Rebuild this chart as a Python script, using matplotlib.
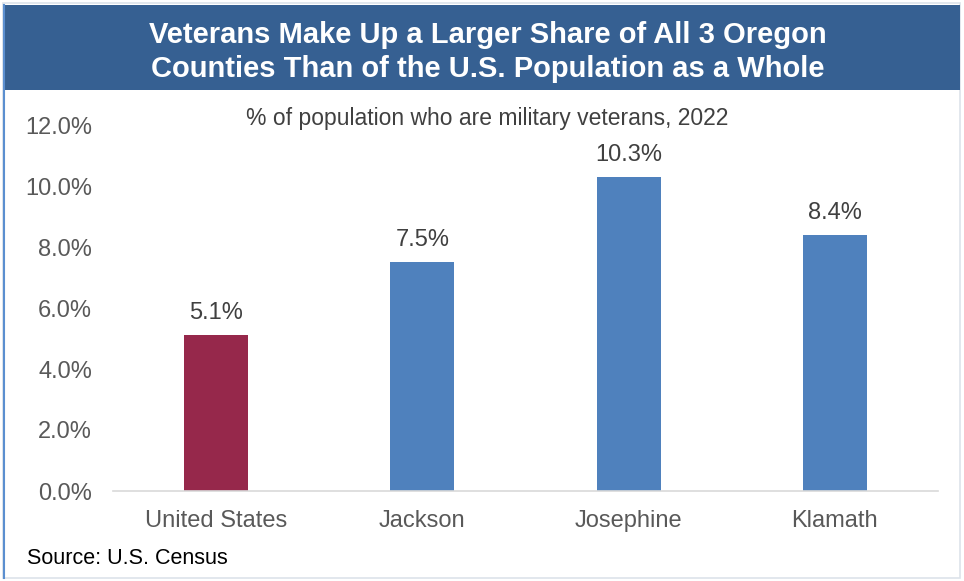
import matplotlib
matplotlib.use("Agg")
import matplotlib.pyplot as plt
from matplotlib.patches import Rectangle
from matplotlib.lines import Line2D

categories = ["United States", "Jackson", "Josephine", "Klamath"]
values = [5.1, 7.5, 10.3, 8.4]
colors = ["#96284b", "#4f81bd", "#4f81bd", "#4f81bd"]
yticks = [0, 2, 4, 6, 8, 10, 12]

W, H = 964, 581
fig = plt.figure(figsize=(W / 100, H / 100), dpi=100)
fig.patch.set_facecolor("white")

def fx(px):
    return px / W

def fy(py):
    return 1 - py / H

plt.rcParams["font.family"] = ["Liberation Sans", "DejaVu Sans"]

# outer border
fig.add_artist(Rectangle((fx(3), fy(578)), fx(957), (575) / H, transform=fig.transFigure,
                         facecolor="none", edgecolor="#dde3ea", lw=1.2))
fig.add_artist(Line2D([fx(3.5), fx(3.5)], [fy(5), fy(578)], transform=fig.transFigure,
                      color="#5b8fd0", lw=1.5))
# title banner
fig.add_artist(Rectangle((fx(4), fy(90)), fx(956), 85 / H, transform=fig.transFigure,
                         facecolor="#366092", edgecolor="none"))
fig.text(fx(488), fy(52), "Veterans Make Up a Larger Share of All 3 Oregon\nCounties Than of the U.S. Population as a Whole",
         ha="center", va="center", color="white", fontsize=21, fontweight="bold",
         linespacing=1.3)

ax = fig.add_axes([fx(113), fy(491), fx(938 - 113), (491 - 125) / H])
x = list(range(len(categories)))
bars = ax.bar(x, values, width=0.31, color=colors, zorder=2)
ax.set_xlim(-0.5, len(categories) - 0.5)
ax.set_ylim(0, 12)
ax.set_yticks(yticks)
ax.set_yticklabels([f"{t:.1f}%" for t in yticks], fontsize=17, color="#595959")
ax.set_xticks(x)
ax.set_xticklabels(categories, fontsize=17, color="#595959")
ax.tick_params(axis="both", length=0)
ax.tick_params(axis="y", pad=15)
ax.tick_params(axis="x", pad=14)
for s in ["top", "right", "left"]:
    ax.spines[s].set_visible(False)
ax.spines["bottom"].set_color("#d9d9d9")
ax.spines["bottom"].set_linewidth(1.2)
ax.patch.set_alpha(0)

for xi, v in zip(x, values):
    ax.annotate(f"{v:.1f}%", (xi, v), xytext=(0, 8), textcoords="offset points",
                ha="center", va="bottom", fontsize=17, color="#404040")

fig.text(fx(487), fy(118), "% of population who are military veterans, 2022",
         ha="center", va="center", fontsize=16.5, color="#404040")
fig.text(fx(27), fy(558), "Source: U.S. Census", ha="left", va="center",
         fontsize=15.5, color="black")

fig.savefig("out.png", dpi=100, facecolor="white")
